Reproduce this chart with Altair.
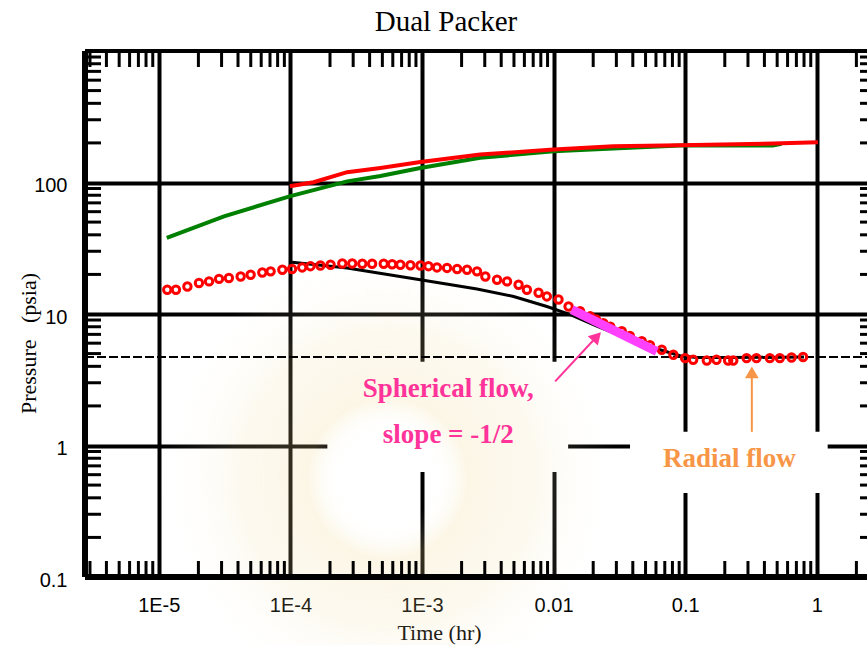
import json
import altair as alt
import pandas as pd

# ---------------- data ----------------
# pressure change (green) and model pressure (red line)
green_t = [1.15e-5, 3.13e-5, 1.0e-4, 2.7e-4, 4.83e-4, 9.7e-4, 2.77e-3, 0.01, 0.0283, 0.0914, 0.463, 0.54]
green_p = [37.9, 55.3, 78.8, 102, 112, 129, 154, 173, 181, 191, 191, 197]

red_t = [9.9e-5, 1.5e-4, 2.7e-4, 4.83e-4, 9.73e-4, 2.77e-3, 0.01, 0.0285, 0.0914, 0.467, 1.02]
red_p = [93.7, 100.5, 119.8, 129, 143, 163, 178, 189, 192, 198, 202]

# pressure derivative (red symbols)
deriv_t = [1.16e-5, 1.35e-5, 1.65e-5, 2.02e-5, 2.41e-5, 2.87e-5, 3.41e-5, 4.19e-5, 4.99e-5,
           6.12e-5, 7.08e-5, 8.69e-5, 1.03e-4, 1.23e-4, 1.42e-4, 1.69e-4, 2.02e-4, 2.48e-4,
           2.95e-4, 3.52e-4, 4.18e-4, 5.12e-4, 5.93e-4, 6.85e-4, 8.17e-4, 9.73e-4, 1.12e-3,
           1.30e-3, 1.55e-3, 1.85e-3, 2.20e-3, 2.62e-3, 3.03e-3, 3.72e-3, 4.43e-3, 5.42e-3,
           6.27e-3, 7.69e-3, 8.89e-3, 0.0109, 0.0130, 0.0159, 0.0190, 0.021, 0.0239, 0.027,
           0.033, 0.038, 0.0468, 0.054, 0.0664, 0.0813, 0.0998, 0.115, 0.146, 0.173, 0.212,
           0.232, 0.293, 0.348, 0.440, 0.524, 0.643, 0.787]
deriv_p = [15.3, 15.3, 16.2, 17.2, 17.7, 18.5, 18.8, 19.3, 19.9,
           20.7, 21.1, 21.7, 22.0, 22.6, 23.1, 23.4, 23.7, 24.2,
           24.2, 24.1, 24.1, 24.1, 23.9, 23.7, 23.5, 23.4, 23.1,
           22.6, 22.4, 22.0, 21.7, 21.1, 19.3, 18.2, 17.7, 16.7,
           15.3, 14.5, 13.6, 12.9, 11.4, 10.5, 9.6, 9.1, 8.5, 8.0,
           7.4, 6.8, 6.2, 5.8, 5.35, 4.9, 4.62, 4.49, 4.43, 4.49, 4.43,
           4.43, 4.62, 4.62, 4.62, 4.62, 4.67, 4.71]

# model derivative (black)
model_t = [1.03e-4, 2.7e-4, 9.7e-4, 2.62e-3, 4.97e-3, 8.9e-3, 0.0134, 0.0213, 0.0381,
           0.0644, 0.0914, 0.122, 0.2, 0.8]
model_p = [24.7, 22.4, 18.2, 15.5, 13.6, 11.4, 9.9, 8.1, 6.4, 5.35, 4.81, 4.67, 4.66, 4.7]

# spherical-flow straight line, slope -1/2
sph_t = [0.01374, 0.0608]
sph_p = [10.8, 5.19]

# radial-flow stabilisation level
radial_level = 4.7

# axis ticks
x_major = [1e-5, 1e-4, 1e-3, 0.01, 0.1, 1]
x_major_labels = ["1E-5", "1E-4", "1E-3", "0.01", "0.1", "1"]
y_major = [0.1, 1, 10, 100]
y_major_labels = ["0.1", "1", "10", "100"]

# annotations
notes_text = ["Spherical flow,", "slope = -1/2", "Radial flow"]
notes_t = [1.585e-3, 1.585e-3, 0.217]
notes_p = [2.34, 1.047, 0.687]
notes_color = ["#ff3399", "#ff3399", "#f79646"]

# ---------------- layout ----------------
X_MIN, X_MAX = 2.75e-6, 2.408
Y_MIN, Y_MAX = 0.1, 1000
W, H = 782, 526
TICK = 16

x_minor = [m * 10.0 ** e for e in range(-6, 1) for m in range(2, 10)
           if X_MIN <= m * 10.0 ** e <= X_MAX]
y_minor = [m * 10.0 ** e for e in range(-1, 3) for m in range(2, 10)]

xs = alt.Scale(type="log", domain=[X_MIN, X_MAX], nice=False, zero=False)
ys = alt.Scale(type="log", domain=[Y_MIN, Y_MAX], nice=False, zero=False)

LABEL_FONT = "Liberation Sans, Arial"
SERIF = "Liberation Serif, Times New Roman"
NBSP = "\u00a0"

x_axis = alt.Axis(
    values=x_major, grid=True, gridColor="black", gridWidth=4, gridOpacity=1,
    ticks=False, domain=False,
    labelExpr=json.dumps(x_major_labels) + "[round(log(datum.value)/LN10)+5]",
    labelFont=LABEL_FONT, labelFontSize=20, labelColor="black", labelPadding=18,
    title="Time (hr)", titleFont=SERIF, titleFontSize=22, titleFontWeight="normal",
    titleColor="black", titleX=354, titleY=62, titleBaseline="alphabetic",
)
y_axis = alt.Axis(
    values=y_major, grid=True, gridColor="black", gridWidth=4, gridOpacity=1,
    ticks=False, domain=False,
    labelExpr=json.dumps(y_major_labels) + "[round(log(datum.value)/LN10)+1]",
    labelFont=LABEL_FONT, labelFontSize=20, labelColor="black", labelPadding=18,
    labelOffset=3,
    title="Pressure" + NBSP * 3 + "(psia)", titleFont=SERIF, titleFontSize=22,
    titleFontWeight="normal", titleColor="black", titleAngle=270, titleX=-57, titleY=292,
    titleAlign="center", titleBaseline="middle",
)

X = alt.X("t:Q", scale=xs, axis=x_axis)
Y = alt.Y("p:Q", scale=ys, axis=y_axis)

# ---------------- layers ----------------
boxes = pd.DataFrame({
    "t": [1.91e-4, 0.0381], "t2": [0.0129, 1.21],
    "p": [4.33, 1.27], "p2": [0.63, 0.435],
})
box_layer = alt.Chart(boxes).mark_rect(color="white").encode(
    x=X, x2="t2:Q", y=Y, y2="p2:Q")

# faint emblem haze behind the lower-middle part of the plot
wm = pd.DataFrame({"t": [5.5e-4], "p": [0.56]})
watermark = alt.Chart(wm).mark_point(
    shape="circle", size=210000, filled=True, strokeWidth=0, opacity=1,
    fill={"gradient": "radial",
          "stops": [{"offset": 0.0, "color": "rgba(255,255,255,0)"},
                    {"offset": 0.2, "color": "rgba(255,255,255,0)"},
                    {"offset": 0.35, "color": "rgba(240,215,140,0.22)"},
                    {"offset": 0.65, "color": "rgba(240,220,160,0.16)"},
                    {"offset": 1.0, "color": "rgba(255,255,255,0)"}]},
).encode(x=X, y=Y)

xm = pd.DataFrame({"t": x_minor})
ym = pd.DataFrame({"p": y_minor})
tick_bottom = alt.Chart(xm).mark_rule(color="black", strokeWidth=3).encode(
    x=X, y=alt.value(H), y2=alt.value(H - TICK))
tick_top = alt.Chart(xm).mark_rule(color="black", strokeWidth=3).encode(
    x=X, y=alt.value(0), y2=alt.value(TICK))
tick_left = alt.Chart(ym).mark_rule(color="black", strokeWidth=3).encode(
    y=Y, x=alt.value(0), x2=alt.value(TICK))
tick_right = alt.Chart(ym).mark_rule(color="black", strokeWidth=3).encode(
    y=Y, x=alt.value(W - 7), x2=alt.value(W))

frame_top = alt.Chart(xm).mark_rule(color="black", strokeWidth=4).encode(
    x=alt.value(0), x2=alt.value(W), y=alt.value(0))
frame_bottom = alt.Chart(xm).mark_rule(color="black", strokeWidth=5).encode(
    x=alt.value(0), x2=alt.value(W), y=alt.value(H))
frame_left = alt.Chart(xm).mark_rule(color="black", strokeWidth=5).encode(
    x=alt.value(0), y=alt.value(0), y2=alt.value(H))

dashed = alt.Chart(pd.DataFrame({"p": [radial_level]})).mark_rule(
    color="black", strokeWidth=2, strokeDash=[9, 3]).encode(
    y=Y, x=alt.value(0), x2=alt.value(W))

green = alt.Chart(pd.DataFrame({"t": green_t, "p": green_p})).mark_line(
    color="#008000", strokeWidth=4).encode(x=X, y=Y)
red = alt.Chart(pd.DataFrame({"t": red_t, "p": red_p})).mark_line(
    color="#ff0000", strokeWidth=4).encode(x=X, y=Y)
model = alt.Chart(pd.DataFrame({"t": model_t, "p": model_p})).mark_line(
    color="black", strokeWidth=3).encode(x=X, y=Y)
deriv = alt.Chart(pd.DataFrame({"t": deriv_t, "p": deriv_p})).mark_point(
    shape="circle", filled=False, color="#ff0000", strokeWidth=3, size=55,
    opacity=1).encode(x=X, y=Y)
sph = alt.Chart(pd.DataFrame({"t": sph_t, "p": sph_p})).mark_line(
    color="#ff40ff", strokeWidth=9).encode(x=X, y=Y)

arrows = pd.DataFrame({
    "t": [0.01028, 0.321], "p": [3.07, 1.27],
    "t2": [0.02133, 0.321], "p2": [6.74, 3.6],
    "c": ["#ff3399", "#f79646"], "a": [43, 0],
})
arrow_lines = alt.Chart(arrows).mark_rule(strokeWidth=2).encode(
    x=X, y=Y, x2="t2:Q", y2="p2:Q", color=alt.Color("c:N", scale=None))
arrow_heads = alt.Chart(arrows).mark_point(
    shape="triangle-up", filled=True, size=190, opacity=1).encode(
    x=alt.X("t2:Q", scale=xs, axis=x_axis), y=alt.Y("p2:Q", scale=ys, axis=y_axis),
    angle=alt.Angle("a:Q", scale=None), color=alt.Color("c:N", scale=None))

notes = alt.Chart(pd.DataFrame({"t": notes_t, "p": notes_p, "label": notes_text,
                                "c": notes_color})).mark_text(
    font=SERIF, fontSize=27, fontWeight="bold", align="center",
    baseline="alphabetic").encode(
    x=X, y=Y, text="label:N", color=alt.Color("c:N", scale=None))

chart = alt.layer(
    box_layer, watermark, dashed, green, red, model, deriv, sph,
    arrow_lines, arrow_heads, notes,
    tick_bottom, tick_top, tick_left, tick_right,
    frame_top, frame_bottom, frame_left,
).properties(
    width=W, height=H,
    title=alt.TitleParams("Dual Packer", font=SERIF, fontSize=29, fontWeight="normal",
                          color="black", anchor="middle", dx=-30, offset=12),
    autosize=alt.AutoSizeParams(type="none"),
    padding={"left": 85, "top": 51, "right": 0, "bottom": 68},
).configure_view(stroke=None).configure(background="white")

chart.save("out.html", embed_options={"renderer": "svg", "actions": False})
